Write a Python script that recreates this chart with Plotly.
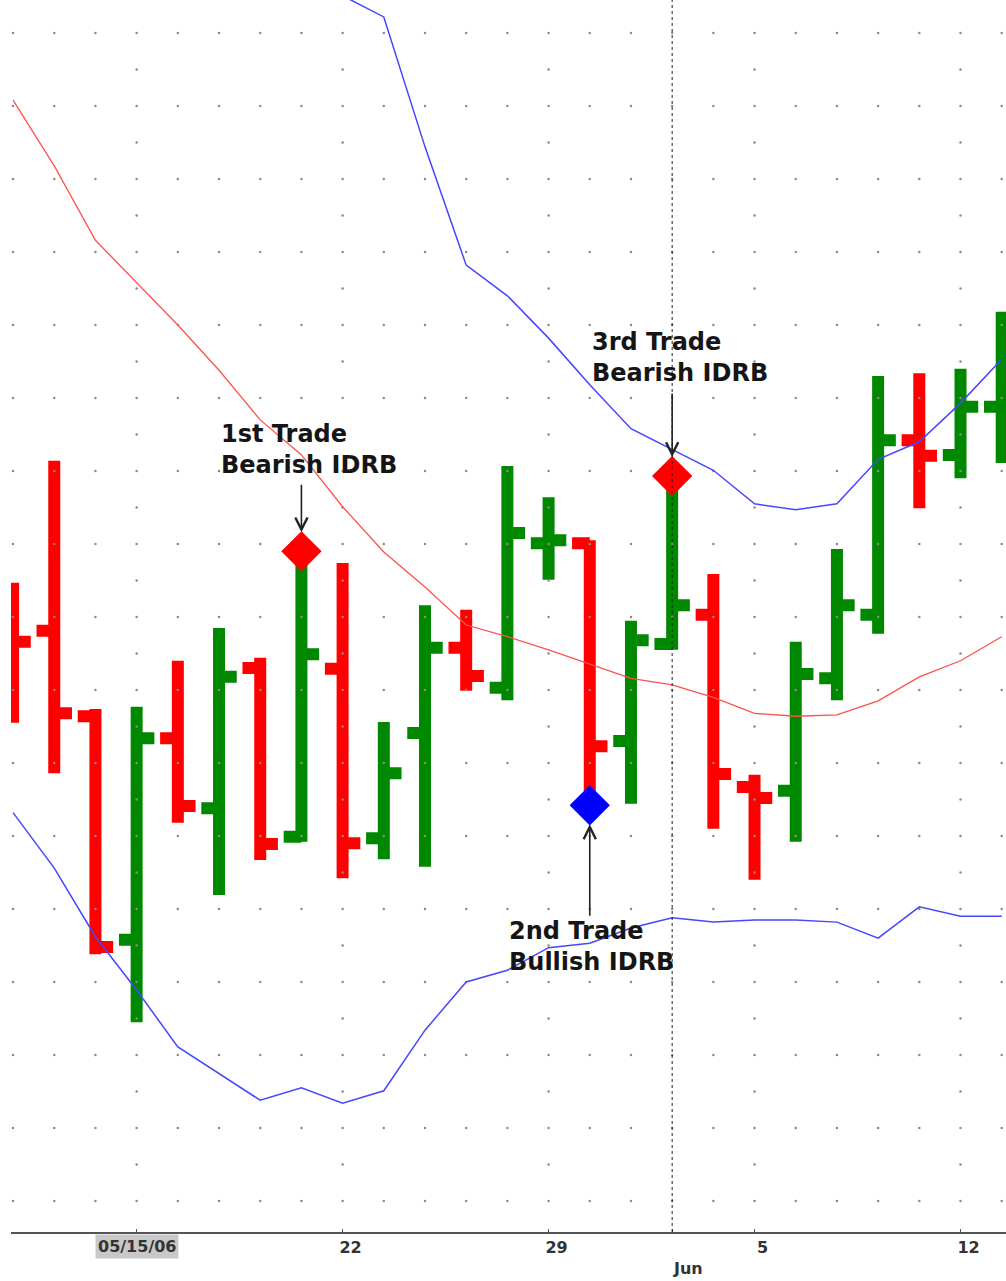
import pandas as pd
import plotly.graph_objects as go

# trading days shown (weekdays only)
dates = pd.bdate_range("2006-05-10", "2006-06-13")

opens = [27.95, 27.81, 26.64, 23.58, 26.34, 25.38, 27.30, 24.99, 27.29, 24.97, 26.41, 27.58, 27.03,
         29.01, 29.01, 26.30, 27.63, 28.03, 25.67, 25.62, 27.16, 28.03, 30.42, 30.22, 30.88]
highs = [28.47, 30.14, 26.74, 26.77, 27.40, 27.85, 27.44, 28.90, 28.74, 26.56, 28.16, 28.10, 30.07,
         29.64, 29.05, 27.95, 29.93, 28.59, 25.84, 27.66, 28.93, 31.30, 31.34, 31.40, 32.18]
lows = [26.55, 25.86, 23.38, 22.45, 25.18, 24.19, 24.67, 24.92, 24.42, 24.68, 24.58, 26.99, 26.86,
        28.51, 25.42, 25.44, 27.55, 25.10, 24.40, 24.92, 26.86, 27.77, 29.49, 29.90, 30.11]
closes = [27.66, 26.68, 23.48, 26.34, 25.41, 27.18, 24.89, 27.49, 24.90, 25.86, 27.58, 27.19, 29.15,
          29.05, 26.23, 27.68, 28.16, 25.85, 25.52, 27.22, 28.16, 30.42, 30.21, 30.88, 31.25]

# Bollinger bands
upper_band = [None] * 7 + [36.86, 36.51, 36.22, 34.44, 32.82, 32.40, 31.82, 31.18, 30.58, 30.29,
                           30.01, 29.55, 29.47, 29.55, 30.16, 30.40, 30.93, 31.53]
middle_band = [35.08, 34.18, 33.16, 32.58, 32.00, 31.38, 30.70, 30.22, 29.51, 28.89, 28.41, 27.89, 27.73,
               27.55, 27.36, 27.16, 27.07, 26.90, 26.68, 26.64, 26.66, 26.85, 27.18, 27.40, 27.73]
lower_band = [25.32, 24.56, 23.62, 22.89, 22.11, 21.75, 21.38, 21.55, 21.34, 21.51, 22.34, 23.00, 23.16,
              23.47, 23.53, 23.74, 23.88, 23.82, 23.85, 23.85, 23.82, 23.60, 24.03, 23.90, 23.90]

# IDRB trade signals
signal_idx = [7, 14, 16]
signal_side = ["high", "low", "high"]
signal_colors = ["#ff0000", "#0000ff", "#ff0000"]
trade_labels = ["1st Trade<br>Bearish IDRB", "2nd Trade<br>Bullish IDRB", "3rd Trade<br>Bearish IDRB"]
label_x = ["2006-05-17", "2006-05-26", "2006-05-30"]
label_y = [30.30, 23.49, 31.55]
arrow_ay = [-68, 112, -84]

tick_vals = ["2006-05-15", "2006-05-22", "2006-05-29", "2006-06-01", "2006-06-05", "2006-06-12"]
tick_text = ["", "22", "29", "", "5", "12"]

FONT = "DejaVu Sans, Liberation Sans, Arial"

fig = go.Figure()

# dotted grid: every day on whole levels, Mondays also on half levels
gx, gy = [], []
for d in dates:
    for lv in range(20, 37):
        gx.append(d)
        gy.append(lv)
        if d.weekday() == 0 and lv < 36:
            gx.append(d)
            gy.append(lv + 0.5)
fig.add_trace(go.Scatter(x=gx, y=gy, mode="markers", marker=dict(size=2.5, color="#8a8a8a"),
                         hoverinfo="skip", showlegend=False))

fig.add_trace(go.Scatter(x=dates, y=upper_band, mode="lines", line=dict(color="#4646ff", width=1.5),
                         showlegend=False))
fig.add_trace(go.Scatter(x=dates, y=middle_band, mode="lines", line=dict(color="#ff5050", width=1.3),
                         showlegend=False))
fig.add_trace(go.Scatter(x=dates, y=lower_band, mode="lines", line=dict(color="#4646ff", width=1.5),
                         showlegend=False))

fig.add_trace(go.Ohlc(
    x=dates, open=opens, high=highs, low=lows, close=closes,
    increasing=dict(line=dict(color="#008800", width=12)),
    decreasing=dict(line=dict(color="#ff0000", width=12)),
    tickwidth=0.43, showlegend=False,
))

sig_x = [dates[i] for i in signal_idx]
sig_y = [highs[i] if s == "high" else lows[i] for i, s in zip(signal_idx, signal_side)]
fig.add_trace(go.Scatter(x=sig_x, y=sig_y, mode="markers",
                         marker=dict(symbol="diamond", size=31, color=signal_colors, line=dict(width=0)),
                         showlegend=False))

for txt, lx, ly in zip(trade_labels, label_x, label_y):
    fig.add_annotation(x=lx, y=ly, text=f"<b>{txt}</b>", showarrow=False, xanchor="left", yanchor="middle",
                       align="left", font=dict(family=FONT, size=24, color="#151515"))
for x, y, ay in zip(sig_x, sig_y, arrow_ay):
    fig.add_annotation(x=x, y=y, text="", showarrow=True, ax=0, ay=ay, arrowhead=5, arrowsize=1.5,
                       arrowwidth=1.6, arrowcolor="#222222", standoff=19)

# date labels that are styled apart from the axis
fig.add_annotation(x="2006-05-15", y=0, yref="paper", yanchor="top", yshift=-2, showarrow=False,
                   text="<b>05/15/06</b>", bgcolor="#c8c8c8", borderpad=2,
                   font=dict(family=FONT, size=16, color="#333333"))
fig.add_annotation(x="2006-06-01", y=0, yref="paper", yanchor="middle", yshift=-36, xshift=16,
                   showarrow=False, text="<b>Jun</b>",
                   font=dict(family=FONT, size=16, color="#333333"))

fig.add_shape(type="line", x0="2006-06-01", x1="2006-06-01", y0=0, y1=1, yref="paper",
              line=dict(color="#222222", width=1, dash="dot"))

fig.update_xaxes(
    range=["2006-05-09 22:48", "2006-06-13 02:30"],
    rangebreaks=[dict(bounds=["sat", "mon"])],
    rangeslider=dict(visible=False),
    tickvals=tick_vals, ticktext=tick_text, ticklabelshift=8,
    ticks="inside", ticklen=3, tickcolor="#555555",
    tickfont=dict(family=FONT, size=16, color="#333333", weight="bold"),
    showgrid=False, zeroline=False, showline=True, linecolor="#555555", linewidth=2,
)
fig.update_yaxes(range=[19.575, 36.452], showgrid=False, zeroline=False, showticklabels=False,
                 showline=False, ticks="")
fig.update_layout(
    width=1006, height=1281,
    margin=dict(l=11, r=0, t=0, b=49),
    paper_bgcolor="white", plot_bgcolor="white",
    showlegend=False,
)

# drop the default page margin so the figure fills the window exactly
fig.write_html("out.html", config={"displayModeBar": False},
               post_script="document.body.style.margin = '0';")
